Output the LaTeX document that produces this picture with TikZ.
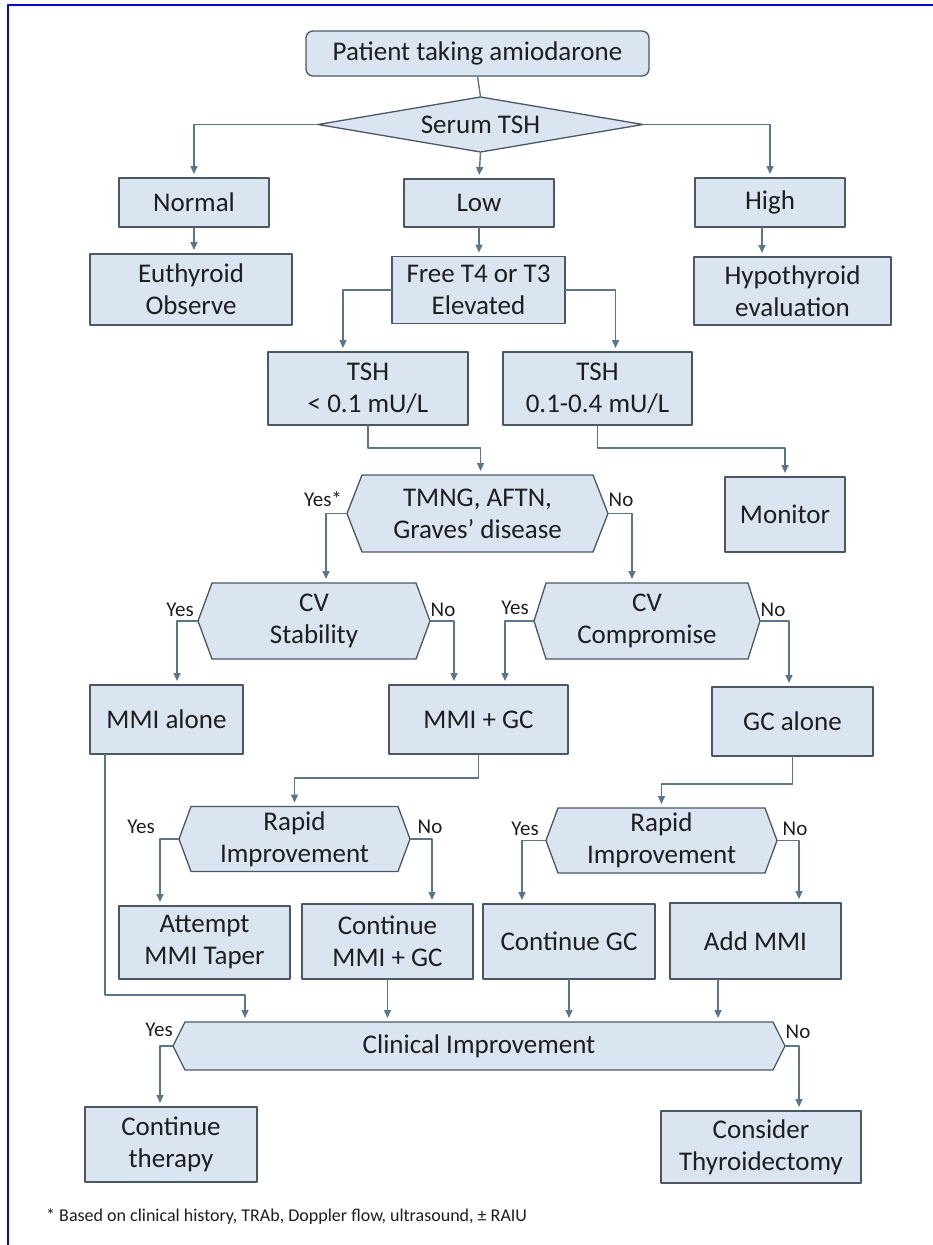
\documentclass[tikz,border=0pt]{standalone}
\usepackage{fontspec}
\setmainfont{Carlito}
\usetikzlibrary{arrows.meta,backgrounds}
\definecolor{boxfill}{RGB}{219,229,241}
\definecolor{boxline}{RGB}{75,88,100}
\definecolor{arrline}{RGB}{88,118,142}
\definecolor{txt}{RGB}{30,30,30}
\definecolor{frameblue}{RGB}{0,0,255}
% hexagon behind a (borderless) rectangle node: name, inset
\newcommand\hexback[2]{%
  \begin{scope}[on background layer]
    \draw[shapeline] ([xshift=#2]#1.north west)--([xshift=-#2]#1.north east)--(#1.east)
      --([xshift=-#2]#1.south east)--([xshift=#2]#1.south west)--(#1.west)--cycle;
  \end{scope}}
% diamond behind a (borderless) rectangle node
\newcommand\diamback[1]{%
  \begin{scope}[on background layer]
    \draw[shapeline] (#1.north)--(#1.east)--(#1.south)--(#1.west)--cycle;
  \end{scope}}
\begin{document}
\begin{tikzpicture}[x=1pt,y=-1pt,line join=round,
  shapeline/.style={draw=boxline,fill=boxfill,line width=1.3pt},
  box/.style={shapeline,text=txt,align=center,inner sep=2pt,outer sep=0pt,
    font=\fontsize{27}{32}\selectfont},
  dec/.style={box,draw=none,fill=none},
  arr/.style={draw=arrline,line width=1.4pt,-{Triangle[width=7pt,length=8pt]},shorten >=4pt},
  lbl/.style={text=txt,inner sep=0pt,font=\fontsize{21}{23}\selectfont}]
\useasboundingbox (0,0) rectangle (933,1245);
\draw[frameblue,line width=2pt] (7.5,1245)--(7.5,4.5)--(933,4.5);

% top
\node[box,rounded corners=7pt,minimum width=343pt,minimum height=45pt] (start) at (477.5,53.5) {Patient taking amiodarone};
\node[dec,minimum width=325pt,minimum height=55pt] (tsh) at (480.5,124.5) {Serum TSH};
\diamback{tsh}
\node[box,minimum width=150pt,minimum height=49pt] (normal) at (194,202.5) {Normal};
\node[box,minimum width=150pt,minimum height=48pt] (low) at (479,203) {Low};
\node[box,minimum width=150pt,minimum height=49pt] (high) at (770,202.5) {High};
\node[box,minimum width=202pt,minimum height=71pt] (eu) at (191,289.5) {Euthyroid\\Observe};
\node[box,minimum width=173pt,minimum height=67pt] (free) at (478.5,290) {Free T4 or T3\\Elevated};
\node[box,minimum width=197pt,minimum height=68pt] (hypo) at (792.5,291) {Hypothyroid\\evaluation};
\node[box,minimum width=200pt,minimum height=73pt] (tshlo) at (368,388.5) {TSH\\< 0.1 mU/L};
\node[box,minimum width=189pt,minimum height=73pt] (tshmid) at (597.5,388.5) {TSH\\0.1-0.4 mU/L};

% middle
\node[dec,minimum width=261pt,minimum height=77pt] (tmng) at (477.5,513.5) {TMNG, AFTN,\\Graves’ disease};
\hexback{tmng}{15pt}
\node[box,minimum width=120pt,minimum height=75pt] (monitor) at (785,514.5) {Monitor};
\node[dec,minimum width=232pt,minimum height=76pt] (cvstab) at (314,621) {CV\\Stability};
\hexback{cvstab}{14pt}
\node[dec,minimum width=226pt,minimum height=76pt] (cvcomp) at (647,621) {CV\\Compromise};
\hexback{cvcomp}{12pt}
\node[box,minimum width=153pt,minimum height=69pt] (mmialone) at (166.5,719.5) {MMI alone};
\node[box,minimum width=179pt,minimum height=69pt] (mmigc) at (478.5,719.5) {MMI + GC};
\node[box,minimum width=161pt,minimum height=69pt] (gcalone) at (792.5,721.5) {GC alone};

% lower
\node[dec,minimum width=231pt,minimum height=65pt] (rapidA) at (294.5,839) {Rapid\\Improvement};
\hexback{rapidA}{12pt}
\node[dec,minimum width=231pt,minimum height=65pt] (rapidB) at (661.5,840.5) {Rapid\\Improvement};
\hexback{rapidB}{12pt}
\node[box,minimum width=171pt,minimum height=73pt] (attempt) at (204.5,942.5) {Attempt\\MMI Taper};
\node[box,minimum width=171pt,minimum height=75pt] (contmmi) at (387.5,941.5) {Continue\\MMI + GC};
\node[box,minimum width=172pt,minimum height=75pt] (contgc) at (569,941.5) {Continue GC};
\node[box,minimum width=171pt,minimum height=76pt] (addmmi) at (755.5,941) {Add MMI};
\node[dec,minimum width=612pt,minimum height=48pt] (clinical) at (479,1046) {Clinical Improvement};
\hexback{clinical}{12pt}
\node[box,minimum width=172pt,minimum height=75pt] (conttherapy) at (171,1144.5) {Continue\\therapy};
\node[box,minimum width=200pt,minimum height=72pt] (consider) at (761,1147) {Consider\\Thyroidectomy};
\node[anchor=west,text=txt,inner sep=0pt,font=\fontsize{18}{20}\selectfont] (note) at (46,1217)
  {* Based on clinical history, TRAb, Doppler flow, ultrasound, ± RAIU};

% yes / no labels
\node[lbl] at ([shift={(-24,-14)}]tmng.west) {Yes*};
\node[lbl] at ([shift={(13,-14)}]tmng.east) {No};
\node[lbl] at ([shift={(-18,-11)}]cvstab.west) {Yes};
\node[lbl] at ([shift={(13,-11)}]cvstab.east) {No};
\node[lbl] at ([shift={(-19,-13)}]cvcomp.west) {Yes};
\node[lbl] at ([shift={(13,-11)}]cvcomp.east) {No};
\node[lbl] at ([shift={(-38,-12)}]rapidA.west) {Yes};
\node[lbl] at ([shift={(20,-12)}]rapidA.east) {No};
\node[lbl] at ([shift={(-21,-12)}]rapidB.west) {Yes};
\node[lbl] at ([shift={(18,-12)}]rapidB.east) {No};
\node[lbl] at ([shift={(-14,-16)}]clinical.west) {Yes};
\node[lbl] at ([shift={(13,-14)}]clinical.east) {No};

% connectors
\draw[draw=arrline,line width=1.4pt] (start.south)--(tsh.north);
\draw[arr] (tsh.west) -| (normal.north);
\draw[arr] (tsh.south)--(low.north);
\draw[arr] (tsh.east) -| (high.north);
\draw[arr] (normal.south)--(normal.south |- eu.north);
\draw[arr] (low.south)--(low.south |- free.north);
\draw[arr] ([xshift=-8pt]high.south)--([xshift=-8pt]high.south |- hypo.north);
\draw[arr] (free.west) -| ([xshift=-25pt]tshlo.north);
\draw[arr] (free.east) -| ([xshift=18pt]tshmid.north);
\draw[arr] (tshlo.south)--++(0,23) -| ([xshift=3pt]tmng.north);
\draw[arr] (tshmid.south)--++(0,23) -| (monitor.north);
\draw[arr] (tmng.west) -| ([xshift=12pt]cvstab.north);
\draw[arr] (tmng.east) -| ([xshift=-15pt]cvcomp.north);
\draw[arr] (cvstab.west) -| ([xshift=10.5pt]mmialone.north);
\draw[arr] (cvstab.east) -| ([xshift=-24.5pt]mmigc.north);
\draw[arr] (cvcomp.west) -| ([xshift=26.5pt]mmigc.north);
\draw[arr] (cvcomp.east) -| ([xshift=-3.5pt]gcalone.north);
\draw[arr] (mmigc.south)--++(0,24) -| (rapidA.north);
\draw[arr] (gcalone.south)--++(0,28) -| (rapidB.north);
\draw[arr] ([xshift=-61.5pt]mmialone.south)--++(0,241) -| ([xshift=-234pt]clinical.north);
\draw[arr] (rapidA.west) -| ([xshift=-44.5pt]attempt.north);
\draw[arr] (rapidA.east) -| ([xshift=44.5pt]contmmi.north);
\draw[arr] (rapidB.west) -| ([xshift=-47pt]contgc.north);
\draw[arr] (rapidB.east) -| ([xshift=43.5pt]addmmi.north);
\draw[arr] (contmmi.south)--(contmmi.south |- clinical.north);
\draw[arr] (contgc.south)--(contgc.south |- clinical.north);
\draw[arr] ([xshift=-37.5pt]addmmi.south)--([xshift=-37.5pt]addmmi.south |- clinical.north);
\draw[arr] (clinical.west) -| ([xshift=-11pt]conttherapy.north);
\draw[arr] (clinical.east) -| ([xshift=38pt]consider.north);
\end{tikzpicture}
\end{document}
